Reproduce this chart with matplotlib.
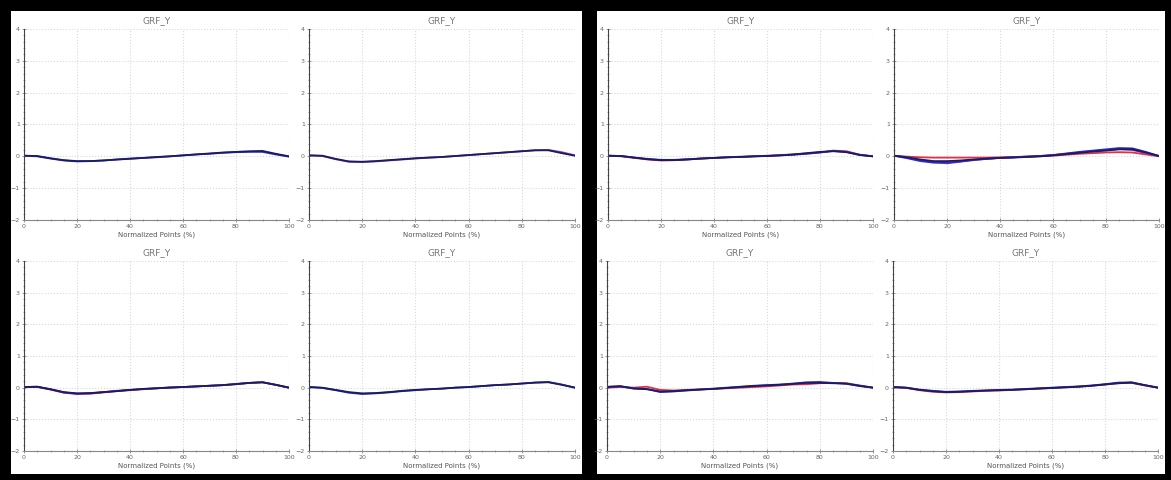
import matplotlib.pyplot as plt
from matplotlib.patches import Rectangle
from matplotlib.ticker import MultipleLocator

x_pts = [0, 5, 10, 15, 20, 25, 30, 35, 40, 45, 50, 55, 60, 65, 70, 75, 80, 85, 90, 95, 100]

# left panel, top-left
l_tl_navy = [0.02, 0.01, -0.06, -0.12, -0.15, -0.15, -0.13, -0.10, -0.07, -0.05, -0.02, 0.00, 0.03, 0.06, 0.09, 0.12, 0.14, 0.16, 0.17, 0.08, 0.00]
l_tl_blue = [0.02, 0.00, -0.07, -0.13, -0.16, -0.15, -0.13, -0.10, -0.08, -0.05, -0.03, 0.00, 0.03, 0.06, 0.08, 0.11, 0.13, 0.14, 0.14, 0.06, -0.01]
# left panel, top-right
l_tr_navy = [0.03, 0.02, -0.08, -0.16, -0.17, -0.15, -0.12, -0.09, -0.06, -0.04, -0.02, 0.01, 0.04, 0.07, 0.10, 0.13, 0.16, 0.19, 0.19, 0.10, 0.02]
l_tr_purple = [0.03, 0.01, -0.09, -0.17, -0.18, -0.16, -0.13, -0.10, -0.07, -0.04, -0.02, 0.01, 0.04, 0.07, 0.10, 0.13, 0.16, 0.19, 0.20, 0.13, 0.03]
# left panel, bottom-left
l_bl_navy = [0.02, 0.03, -0.05, -0.14, -0.18, -0.17, -0.14, -0.11, -0.07, -0.04, -0.02, 0.00, 0.02, 0.04, 0.06, 0.08, 0.11, 0.15, 0.17, 0.09, 0.00]
l_bl_red = [0.02, 0.02, -0.06, -0.16, -0.20, -0.19, -0.15, -0.11, -0.08, -0.05, -0.02, 0.00, 0.02, 0.04, 0.06, 0.08, 0.11, 0.15, 0.17, 0.09, 0.00]
l_bl_blue = [0.02, 0.03, -0.05, -0.15, -0.19, -0.18, -0.14, -0.10, -0.07, -0.04, -0.02, 0.01, 0.02, 0.04, 0.06, 0.08, 0.12, 0.15, 0.17, 0.09, 0.00]
# left panel, bottom-right
l_br_navy = [0.02, 0.00, -0.07, -0.14, -0.18, -0.17, -0.14, -0.10, -0.07, -0.05, -0.03, 0.00, 0.02, 0.05, 0.08, 0.10, 0.13, 0.16, 0.17, 0.09, 0.00]
l_br_blue = [0.02, -0.01, -0.08, -0.16, -0.20, -0.18, -0.15, -0.11, -0.08, -0.05, -0.03, 0.00, 0.02, 0.05, 0.08, 0.10, 0.13, 0.16, 0.18, 0.10, 0.00]
# right panel, top-left
r_tl_navy = [0.02, 0.01, -0.04, -0.09, -0.12, -0.12, -0.10, -0.07, -0.05, -0.03, -0.02, 0.00, 0.01, 0.03, 0.06, 0.10, 0.14, 0.16, 0.13, 0.04, 0.00]
r_tl_red = [0.02, 0.00, -0.05, -0.10, -0.13, -0.12, -0.10, -0.07, -0.05, -0.03, -0.01, 0.00, 0.02, 0.04, 0.06, 0.09, 0.12, 0.18, 0.16, 0.05, 0.00]
r_tl_blue = [0.02, 0.01, -0.04, -0.08, -0.11, -0.11, -0.09, -0.07, -0.05, -0.03, -0.02, 0.00, 0.01, 0.03, 0.05, 0.08, 0.12, 0.17, 0.14, 0.05, 0.00]
# right panel, top-right
r_tr_navy = [0.02, -0.03, -0.10, -0.15, -0.15, -0.13, -0.10, -0.07, -0.05, -0.04, -0.02, 0.00, 0.03, 0.07, 0.11, 0.15, 0.18, 0.22, 0.22, 0.12, 0.01]
r_tr_blue = [0.02, -0.06, -0.15, -0.20, -0.20, -0.16, -0.11, -0.08, -0.05, -0.03, -0.01, 0.01, 0.04, 0.09, 0.14, 0.18, 0.22, 0.26, 0.25, 0.14, 0.01]
r_tr_red = [0.02, -0.01, -0.03, -0.04, -0.04, -0.04, -0.04, -0.04, -0.03, -0.02, -0.01, 0.00, 0.02, 0.05, 0.08, 0.10, 0.12, 0.13, 0.12, 0.06, 0.00]
r_tr_purple = [0.02, -0.04, -0.12, -0.18, -0.22, -0.17, -0.12, -0.08, -0.05, -0.03, -0.01, 0.01, 0.04, 0.08, 0.12, 0.16, 0.20, 0.23, 0.20, 0.10, 0.01]
# right panel, bottom-left
r_bl_navy = [0.02, 0.05, -0.03, -0.05, -0.12, -0.11, -0.08, -0.06, -0.04, -0.01, 0.02, 0.05, 0.07, 0.09, 0.12, 0.15, 0.15, 0.14, 0.13, 0.06, 0.00]
r_bl_red = [0.00, 0.02, 0.00, 0.03, -0.07, -0.09, -0.07, -0.05, -0.04, -0.02, 0.00, 0.02, 0.04, 0.07, 0.10, 0.11, 0.14, 0.15, 0.14, 0.07, 0.00]
r_bl_blue = [0.03, 0.04, -0.02, -0.04, -0.14, -0.12, -0.09, -0.06, -0.03, 0.00, 0.03, 0.06, 0.08, 0.10, 0.13, 0.17, 0.18, 0.15, 0.12, 0.05, 0.00]
# right panel, bottom-right
r_br_navy = [0.02, 0.00, -0.07, -0.11, -0.14, -0.13, -0.11, -0.09, -0.08, -0.07, -0.05, -0.03, -0.01, 0.01, 0.03, 0.06, 0.10, 0.14, 0.16, 0.08, 0.00]
r_br_red = [0.01, -0.01, -0.08, -0.13, -0.15, -0.14, -0.12, -0.10, -0.09, -0.07, -0.05, -0.03, -0.01, 0.01, 0.03, 0.06, 0.10, 0.14, 0.15, 0.07, 0.00]
r_br_blue = [0.02, 0.00, -0.06, -0.10, -0.13, -0.12, -0.10, -0.09, -0.07, -0.06, -0.04, -0.02, 0.00, 0.02, 0.04, 0.07, 0.11, 0.16, 0.17, 0.08, 0.00]

NAVY = '#1c1c5c'
BLUE = '#2a2ad0'
RED = '#e0304a'
PURPLE = '#8a3ab0'

panels = [
    # (left px, top px, width px, height px, curves)
    (24, 29, 265, 191, [(l_tl_blue, BLUE), (l_tl_navy, NAVY)]),
    (309, 29, 266, 191, [(l_tr_purple, PURPLE), (l_tr_navy, NAVY)]),
    (24, 261, 265, 190, [(l_bl_red, RED), (l_bl_blue, BLUE), (l_bl_navy, NAVY)]),
    (309, 261, 266, 190, [(l_br_blue, BLUE), (l_br_navy, NAVY)]),
    (608, 29, 265, 191, [(r_tl_red, RED), (r_tl_blue, BLUE), (r_tl_navy, NAVY)]),
    (894, 29, 265, 191, [(r_tr_red, RED), (r_tr_purple, PURPLE), (r_tr_blue, BLUE), (r_tr_navy, NAVY)]),
    (607, 261, 266, 190, [(r_bl_red, RED), (r_bl_blue, BLUE), (r_bl_navy, NAVY)]),
    (893, 261, 265, 190, [(r_br_red, RED), (r_br_blue, BLUE), (r_br_navy, NAVY)]),
]

W, H = 1171, 480
fig = plt.figure(figsize=(W / 100, H / 100), dpi=100)
fig.patch.set_facecolor('black')

# two white screenshot panels on black
for (x0, y0, x1, y1) in [(11, 11, 582, 474), (597, 11, 1165, 474)]:
    fig.add_artist(Rectangle((x0 / W, 1 - y1 / H), (x1 - x0) / W, (y1 - y0) / H,
                             transform=fig.transFigure, facecolor='white',
                             edgecolor='none', zorder=0))

for (px, py, pw, ph, curves) in panels:
    ax = fig.add_axes([px / W, 1 - (py + ph) / H, pw / W, ph / H])
    ax.set_facecolor('none')
    for ys, col in curves:
        ax.plot(x_pts, ys, color=col, lw=1.3)
    ax.set_xlim(0, 100)
    ax.set_ylim(-2, 4)
    ax.xaxis.set_major_locator(MultipleLocator(20))
    ax.xaxis.set_minor_locator(MultipleLocator(5))
    ax.yaxis.set_major_locator(MultipleLocator(1))
    ax.yaxis.set_minor_locator(MultipleLocator(0.2))
    ax.grid(True, which='major', color='#d8d8d8', linestyle=':', lw=0.8)
    for s in ['top', 'right']:
        ax.spines[s].set_visible(False)
    ax.spines['left'].set_color('#444444')
    ax.spines['left'].set_linewidth(0.8)
    ax.spines['bottom'].set_color('#888888')
    ax.spines['bottom'].set_linewidth(0.8)
    ax.tick_params(which='both', direction='inout', colors='#888888', labelsize=4.5,
                   labelcolor='#666666', pad=1.5)
    ax.tick_params(which='major', length=3, width=0.6)
    ax.tick_params(which='minor', length=1.5, width=0.5)
    ax.set_title('GRF_Y', fontsize=6.5, color='#777777', pad=4)
    ax.set_xlabel('Normalized Points (%)', fontsize=5, color='#555555', labelpad=1.5)

fig.savefig('out.png', dpi=100, facecolor=fig.get_facecolor())
